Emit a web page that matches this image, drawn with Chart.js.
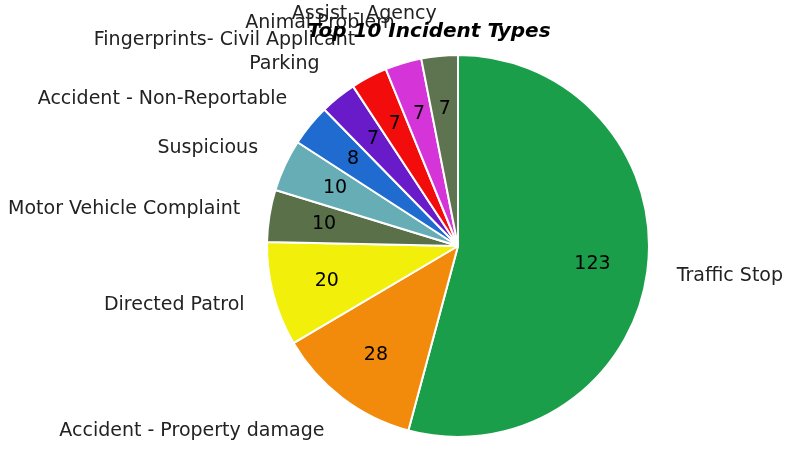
<!DOCTYPE html>
<html>
<head>
<meta charset="utf-8">
<script src="https://cdn.jsdelivr.net/npm/chart.js@4"></script>
<style>
  html, body { margin: 0; padding: 0; background: #fff; }
  #wrap { width: 792px; height: 450px; }
</style>
</head>
<body>
<div id="wrap"><canvas id="incidentChart"></canvas></div>
<script>
const categories = [
  "Traffic Stop",
  "Accident - Property damage",
  "Directed Patrol",
  "Motor Vehicle Complaint",
  "Suspicious",
  "Accident - Non-Reportable",
  "Parking",
  "Fingerprints- Civil Applicant",
  "Animal Problem",
  "Assist - Agency",
];
const counts = [123, 28, 20, 10, 10, 8, 7, 7, 7, 7];
const sliceColors = [
  "#1a9e4a", "#f28a0b", "#f2f00a", "#5a7048", "#66adb5",
  "#1f6bd0", "#6a1bc9", "#f20c0c", "#d535d8", "#5e7350",
];
const chartTitle = "Top 10 Incident Types";

const labelFont = "19px 'DejaVu Sans', sans-serif";

// etichette esterne + valori dentro le fette
const pieLabels = {
  id: "pieLabels",
  afterDatasetsDraw(chart) {
    const ctx = chart.ctx;
    const meta = chart.getDatasetMeta(0);
    ctx.save();
    meta.data.forEach((arc, i) => {
      const p = arc.getProps(["x", "y", "startAngle", "endAngle", "outerRadius"], true);
      const mid = (p.startAngle + p.endAngle) / 2;
      const c = Math.cos(mid), s = Math.sin(mid);
      const r = p.outerRadius;

      ctx.font = labelFont;
      ctx.fillStyle = "#000";
      ctx.textBaseline = "middle";
      ctx.textAlign = "center";
      ctx.fillText(String(counts[i]), p.x + c * r * 0.71, p.y + s * r * 0.72);

      ctx.fillStyle = "#222";
      ctx.textAlign = c >= 0 ? "left" : "right";
      ctx.fillText(categories[i], p.x + c * r * 1.155, p.y + s * r * 1.22);
    });
    ctx.font = "bold italic 20px 'DejaVu Sans', sans-serif";
    ctx.fillStyle = "#000";
    ctx.textAlign = "center";
    ctx.textBaseline = "middle";
    ctx.fillText(chartTitle, 429, 32);
    ctx.restore();
  },
};

new Chart(document.getElementById("incidentChart"), {
  type: "pie",
  data: {
    labels: categories,
    datasets: [
      {
        data: counts,
        backgroundColor: sliceColors,
        borderColor: "#ffffff",
        borderWidth: 2,
      },
    ],
  },
  options: {
    responsive: true,
    maintainAspectRatio: false,
    animation: false,
    layout: { padding: { left: 266, right: 142, top: 54, bottom: 12 } },
    plugins: {
      legend: { display: false },
      tooltip: { enabled: false },
    },
  },
  plugins: [pieLabels],
});
</script>
</body>
</html>
